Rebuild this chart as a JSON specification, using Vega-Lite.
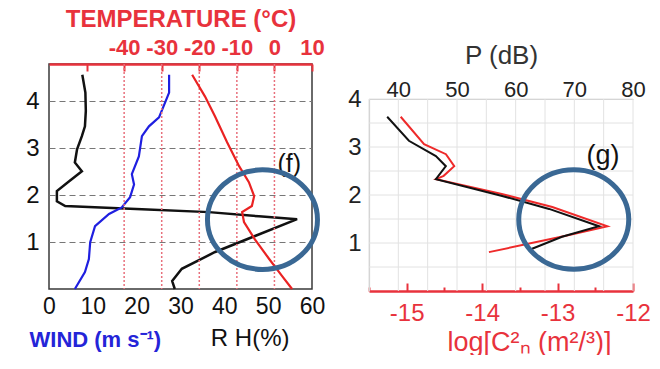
{
  "$schema": "https://vega.github.io/schema/vega-lite/v6.json",
  "background": "white",
  "padding": {"left": 24, "top": 6, "right": 0, "bottom": 0},
  "spacing": 18,
  "config": {
    "font": "Liberation Sans",
    "view": {"stroke": null},
    "axis": {"labelFont": "Liberation Sans", "titleFont": "Liberation Sans", "grid": false, "ticks": false, "domain": false, "labelOverlap": false}
  },
  "datasets": {
    "left": [
      {"series": "RH", "height_km": 4.57, "value": 7.6},
      {"series": "RH", "height_km": 4.19, "value": 8.3},
      {"series": "RH", "height_km": 3.8, "value": 8.4},
      {"series": "RH", "height_km": 3.47, "value": 8.2},
      {"series": "RH", "height_km": 3.26, "value": 7.5},
      {"series": "RH", "height_km": 2.98, "value": 6.4},
      {"series": "RH", "height_km": 2.7, "value": 5.9},
      {"series": "RH", "height_km": 2.51, "value": 7.5},
      {"series": "RH", "height_km": 2.3, "value": 4.6},
      {"series": "RH", "height_km": 2.09, "value": 1.8},
      {"series": "RH", "height_km": 1.87, "value": 1.8},
      {"series": "RH", "height_km": 1.77, "value": 3.7},
      {"series": "RH", "height_km": 1.7, "value": 21.2},
      {"series": "RH", "height_km": 1.64, "value": 36.5},
      {"series": "RH", "height_km": 1.55, "value": 47.9},
      {"series": "RH", "height_km": 1.49, "value": 56.6},
      {"series": "RH", "height_km": 1.13, "value": 47.0},
      {"series": "RH", "height_km": 0.79, "value": 37.9},
      {"series": "RH", "height_km": 0.43, "value": 30.3},
      {"series": "RH", "height_km": 0.17, "value": 28.1},
      {"series": "RH", "height_km": 0.0, "value": 28.7},
      {"series": "Wind", "height_km": 4.57, "value": 27.4},
      {"series": "Wind", "height_km": 4.19, "value": 27.4},
      {"series": "Wind", "height_km": 3.98, "value": 26.5},
      {"series": "Wind", "height_km": 3.66, "value": 25.1},
      {"series": "Wind", "height_km": 3.47, "value": 22.8},
      {"series": "Wind", "height_km": 3.26, "value": 21.2},
      {"series": "Wind", "height_km": 2.83, "value": 20.5},
      {"series": "Wind", "height_km": 2.45, "value": 18.9},
      {"series": "Wind", "height_km": 2.23, "value": 19.4},
      {"series": "Wind", "height_km": 1.96, "value": 18.5},
      {"series": "Wind", "height_km": 1.74, "value": 16.6},
      {"series": "Wind", "height_km": 1.6, "value": 13.7},
      {"series": "Wind", "height_km": 1.34, "value": 10.5},
      {"series": "Wind", "height_km": 1.0, "value": 9.4},
      {"series": "Wind", "height_km": 0.64, "value": 9.1},
      {"series": "Wind", "height_km": 0.36, "value": 8.2},
      {"series": "Wind", "height_km": 0.0, "value": 5.9},
      {"series": "T", "height_km": 4.57, "value": -21.9},
      {"series": "T", "height_km": 4.11, "value": -18.5},
      {"series": "T", "height_km": 3.68, "value": -15.8},
      {"series": "T", "height_km": 3.13, "value": -12.6},
      {"series": "T", "height_km": 2.62, "value": -9.4},
      {"series": "T", "height_km": 2.28, "value": -6.8},
      {"series": "T", "height_km": 1.98, "value": -5.4},
      {"series": "T", "height_km": 1.77, "value": -6.0},
      {"series": "T", "height_km": 1.64, "value": -8.6},
      {"series": "T", "height_km": 1.43, "value": -8.1},
      {"series": "T", "height_km": 1.06, "value": -5.2},
      {"series": "T", "height_km": 0.64, "value": -1.4},
      {"series": "T", "height_km": 0.28, "value": 2.0},
      {"series": "T", "height_km": 0.0, "value": 4.7}
    ],
    "right": [
      {"series": "P", "height_km": 3.63, "value": 38.1},
      {"series": "P", "height_km": 3.13, "value": 41.8},
      {"series": "P", "height_km": 2.81, "value": 46.4},
      {"series": "P", "height_km": 2.6, "value": 48.1},
      {"series": "P", "height_km": 2.33, "value": 46.4},
      {"series": "P", "height_km": 1.98, "value": 57.7},
      {"series": "P", "height_km": 1.71, "value": 65.7},
      {"series": "P", "height_km": 1.35, "value": 74.2},
      {"series": "P", "height_km": 1.13, "value": 67.9},
      {"series": "P", "height_km": 0.88, "value": 62.8},
      {"series": "Cn2", "height_km": 3.63, "value": -15.08},
      {"series": "Cn2", "height_km": 3.06, "value": -14.77},
      {"series": "Cn2", "height_km": 2.85, "value": -14.48},
      {"series": "Cn2", "height_km": 2.6, "value": -14.37},
      {"series": "Cn2", "height_km": 2.4, "value": -14.51},
      {"series": "Cn2", "height_km": 2.33, "value": -14.61},
      {"series": "Cn2", "height_km": 2.02, "value": -13.74},
      {"series": "Cn2", "height_km": 1.75, "value": -13.07},
      {"series": "Cn2", "height_km": 1.35, "value": -12.34},
      {"series": "Cn2", "height_km": 1.15, "value": -12.89},
      {"series": "Cn2", "height_km": 0.81, "value": -13.91}
    ],
    "right_grid_p": [
      {"value": 35}, {"value": 40}, {"value": 45}, {"value": 50}, {"value": 55},
      {"value": 60}, {"value": 65}, {"value": 70}, {"value": 75}, {"value": 80}
    ],
    "right_grid_h": [
      {"height_km": 0.5}, {"height_km": 1}, {"height_km": 1.5}, {"height_km": 2},
      {"height_km": 2.5}, {"height_km": 3}, {"height_km": 3.5}, {"height_km": 4}
    ]
  },
  "hconcat": [
    {
      "width": 263,
      "height": 225,
      "view": {"stroke": "#3a3a3a", "strokeWidth": 1.5},
      "layer": [
        {
          "data": {"name": "left"},
          "layer": [
            {
              "transform": [{"filter": "datum.series === 'RH'"}],
              "mark": {"type": "line", "color": "#111111", "strokeWidth": 2.5},
              "encoding": {
                "x": {"field": "value", "type": "quantitative", "scale": {"domain": [0, 60], "nice": false},
                  "axis": {"orient": "bottom", "values": [0, 10, 20, 30, 40, 50, 60], "labelFontSize": 23, "labelColor": "#111111", "labelPadding": 6, "labelFlush": false,
                    "title": "WIND  (m s⁻¹)", "titleColor": "#2424d8", "titleFontSize": 22, "titleFontWeight": "bold", "titleAlign": "left", "titleX": -20, "titleY": 50, "titleBaseline": "middle"}},
                "y": {"field": "height_km", "type": "quantitative", "scale": {"domain": [0, 4.8], "nice": false, "zero": false},
                  "axis": {"values": [1, 2, 3, 4], "labelFontSize": 24, "labelColor": "#111111", "labelPadding": 10, "title": null, "grid": true, "gridColor": "#777777", "gridDash": [6, 4], "gridWidth": 1.2}},
                "order": {"field": "height_km", "type": "quantitative"}
              }
            },
            {
              "transform": [{"filter": "datum.series === 'Wind'"}],
              "mark": {"type": "line", "color": "#1f1fe0", "strokeWidth": 2.2},
              "encoding": {
                "x": {"field": "value", "type": "quantitative"},
                "y": {"field": "height_km", "type": "quantitative"},
                "order": {"field": "height_km", "type": "quantitative"}
              }
            }
          ]
        },
        {
          "layer": [
            {
              "data": {"values": [{"value": -40}, {"value": -30}, {"value": -20}, {"value": -10}, {"value": 0}]},
              "mark": {"type": "rule", "color": "#e8707c", "strokeDash": [2, 2], "strokeWidth": 1.5},
              "encoding": {
                "x": {"field": "value", "type": "quantitative", "scale": {"domain": [-60, 10], "nice": false},
                  "axis": {"orient": "top", "values": [-50, -40, -30, -20, -10, 0, 10], "labelExpr": "datum.value === -50 ? '' : '' + datum.value",
                    "labelFontSize": 22, "labelFontWeight": "bold", "labelColor": "#e8323c", "labelPadding": 12, "labelFlush": false,
                    "domain": true, "domainColor": "#e8323c", "domainWidth": 2.5, "ticks": true, "tickColor": "#e8323c", "tickSize": -7, "tickWidth": 2,
                    "title": "TEMPERATURE  (°C)", "titleColor": "#e8323c", "titleFontSize": 24, "titleFontWeight": "bold", "titlePadding": 5}}
              }
            },
            {
              "data": {"name": "left"},
              "transform": [{"filter": "datum.series === 'T'"}],
              "mark": {"type": "line", "color": "#ea2222", "strokeWidth": 2.2},
              "encoding": {
                "x": {"field": "value", "type": "quantitative"},
                "y": {"field": "height_km", "type": "quantitative"},
                "order": {"field": "height_km", "type": "quantitative"}
              }
            }
          ]
        },
        {
          "layer": [
            {
              "data": {"values": [{"label": "(f)", "value": 54.8, "height_km": 2.66}]},
              "mark": {"type": "text", "fontSize": 25, "color": "#111111", "align": "center", "baseline": "middle"},
              "encoding": {
                "x": {"field": "value", "type": "quantitative", "scale": {"domain": [0, 60], "nice": false}, "axis": null},
                "y": {"field": "height_km", "type": "quantitative"},
                "text": {"field": "label"}
              }
            },
            {
              "data": {"values": [{"label": "R H(%)", "value": 45.9, "height_km": -1.06}]},
              "mark": {"type": "text", "fontSize": 24, "color": "#111111", "align": "center", "baseline": "middle"},
              "encoding": {
                "x": {"field": "value", "type": "quantitative", "axis": null},
                "y": {"field": "height_km", "type": "quantitative"},
                "text": {"field": "label"}
              }
            },
            {
              "data": {"values": [{"note": "highlight", "value": 48.7, "height_km": 1.48}]},
              "mark": {"type": "point", "shape": "M -1 0 A 1 0.905 0 1 1 1 0 A 1 0.905 0 1 1 -1 0 Z", "size": 12100, "filled": false, "stroke": "#3a6894", "strokeWidth": 5, "opacity": 1},
              "encoding": {
                "x": {"field": "value", "type": "quantitative", "axis": null},
                "y": {"field": "height_km", "type": "quantitative"}
              }
            }
          ]
        }
      ],
      "resolve": {"scale": {"x": "independent"}}
    },
    {
      "width": 264,
      "height": 227,
      "view": {"stroke": null},
      "layer": [
        {
          "layer": [
            {
              "data": {"name": "right_grid_h"},
              "mark": {"type": "rule", "color": "#e2e2e2", "strokeWidth": 1},
              "encoding": {
                "y": {"field": "height_km", "type": "quantitative", "scale": {"domain": [0, 4], "range": [227, 35], "nice": false, "zero": false},
                  "axis": {"values": [1, 2, 3, 4], "format": ".0f", "labelFontSize": 24, "labelColor": "#222222", "labelPadding": 8, "title": null,
                    "domain": true, "domainColor": "#c8c8c8", "domainWidth": 1.2}}
              }
            },
            {
              "data": {"name": "right_grid_p"},
              "mark": {"type": "rule", "color": "#e2e2e2", "strokeWidth": 1},
              "encoding": {
                "x": {"field": "value", "type": "quantitative", "scale": {"domain": [35, 80], "nice": false}, "axis": null},
                "y": {"datum": 0, "type": "quantitative"},
                "y2": {"datum": 4}
              }
            }
          ]
        },
        {
          "data": {"name": "right"},
          "transform": [{"filter": "datum.series === 'Cn2'"}],
          "mark": {"type": "line", "color": "#ee2a2a", "strokeWidth": 2},
          "encoding": {
            "x": {"field": "value", "type": "quantitative", "scale": {"domain": [-15.5, -12], "nice": false},
              "axis": {"orient": "bottom", "values": [-15.5, -15, -14.5, -14, -13.5, -13, -12.5, -12], "labelExpr": "datum.value % 1 === 0 ? '' + datum.value : ''",
                "labelFontSize": 24, "labelColor": "#e8323c", "labelPadding": 18, "labelFlush": false,
                "domain": true, "domainColor": "#e8323c", "domainWidth": 2.5, "ticks": true, "tickColor": "#e8323c", "tickWidth": 2,
                "tickSize": {"condition": {"test": "datum.value % 1 === 0", "value": -8}, "value": -4},
                "title": "log[C²ₙ (m²/³)]", "titleColor": "#e8323c", "titleFontSize": 27, "titleFontWeight": "normal", "titleX": 160, "titleY": 51, "titleBaseline": "middle", "titleAlign": "center"}},
            "y": {"field": "height_km", "type": "quantitative"},
            "order": {"field": "height_km", "type": "quantitative"}
          }
        },
        {
          "layer": [
            {
              "data": {"name": "right"},
              "transform": [{"filter": "datum.series === 'P'"}],
              "mark": {"type": "line", "color": "#111111", "strokeWidth": 2},
              "encoding": {
                "x": {"field": "value", "type": "quantitative", "scale": {"domain": [35, 80], "nice": false},
                  "axis": {"orient": "top", "offset": -35, "values": [40, 50, 60, 70, 80],
                    "labelFontSize": 22, "labelColor": "#222222", "labelPadding": -2, "labelFlush": false,
                    "domain": true, "domainColor": "#c8c8c8", "domainWidth": 1.2,
                    "title": "P  (dB)", "titleColor": "#333333", "titleFontSize": 26, "titleFontWeight": "normal", "titlePadding": 10}},
                "y": {"field": "height_km", "type": "quantitative"},
                "order": {"field": "height_km", "type": "quantitative"}
              }
            },
            {
              "data": {"values": [{"label": "(g)", "value": 74.9, "height_km": 2.81}]},
              "mark": {"type": "text", "fontSize": 27, "color": "#111111", "align": "center", "baseline": "middle"},
              "encoding": {
                "x": {"field": "value", "type": "quantitative"},
                "y": {"field": "height_km", "type": "quantitative"},
                "text": {"field": "label"}
              }
            },
            {
              "data": {"values": [{"note": "highlight", "value": 69.9, "height_km": 1.49}]},
              "mark": {"type": "point", "shape": "M -1 0 A 1 0.905 0 1 1 1 0 A 1 0.905 0 1 1 -1 0 Z", "size": 12100, "filled": false, "stroke": "#3a6894", "strokeWidth": 5, "opacity": 1},
              "encoding": {
                "x": {"field": "value", "type": "quantitative"},
                "y": {"field": "height_km", "type": "quantitative"}
              }
            }
          ]
        }
      ],
      "resolve": {"scale": {"x": "independent"}}
    }
  ]
}
